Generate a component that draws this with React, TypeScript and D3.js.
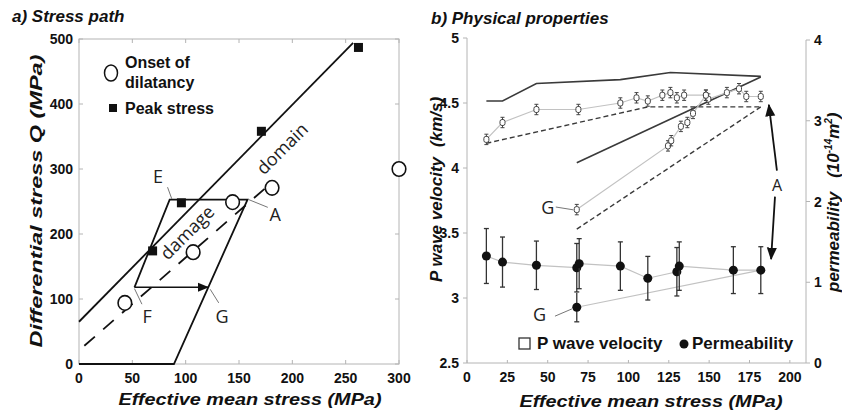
import React from 'react';
import * as d3 from 'd3';

const W = 842;
const H = 417;
const SANS = '"Liberation Sans", Arial, Helvetica, sans-serif';
const HAND = '"Open Sans", "Noto Sans", sans-serif';
const FRAME = '#b4b4b4';
const LIGHT = '#c2c2c2';
const DARK = '#3a3a3a';

// ---------- a) Stress path ----------
const stressXTicks = [0, 50, 100, 150, 200, 250, 300];
const stressYTicks = [0, 100, 200, 300, 400, 500];
const peakStress: [number, number][] = [[69, 174], [96, 248], [171, 358], [262, 487]];
const dilatancyOnset: [number, number][] = [[43, 94], [107, 172], [144, 249], [181, 271], [300, 300]];
const failureLine: [number, number][] = [[0, 65], [257, 494]];
const dilatancyLine: [number, number][] = [[5, 28], [175, 271]];
const loadingPath: [number, number][] = [[0, 0], [89, 0], [158, 253], [85, 253], [52, 118]];
const unloadingStep: [number, number][] = [[52, 118], [121, 118]];
const pathLabels = [
  { t: 'E', at: [74, 289], from: [83, 272], to: [87, 254] },
  { t: 'A', at: [184, 231], from: [177, 241], to: [159, 253] },
  { t: 'F', at: [64, 74], from: [59, 92], to: [52, 116] },
  { t: 'G', at: [134, 74], from: [131, 94], to: [123, 115] },
];

// ---------- b) Physical properties ----------
const propXTicks = [0, 25, 50, 75, 100, 125, 150, 175, 200];
const vpTicks = [2.5, 3, 3.5, 4, 4.5, 5];
const permTicks = [0, 1, 2, 3, 4];
const vpStress = [12, 22, 43, 69, 95, 105, 112, 121, 126, 130, 134.5, 148, 149.5, 161, 168.5, 173, 182];
const vpValues = [4.22, 4.35, 4.45, 4.45, 4.5, 4.54, 4.515, 4.56, 4.58, 4.54, 4.56, 4.56, 4.53, 4.58, 4.61, 4.55, 4.55];
const vpReloadStress = [68, 124.5, 126.5, 132.5, 136.5, 140, 148];
const vpReloadValues = [3.68, 4.17, 4.21, 4.32, 4.35, 4.42, 4.56];
const vpError = 0.04;
const permStress = [12, 22, 43, 68, 69.5, 95, 112, 130, 131.5, 165, 182];
const permValues = [1.325, 1.25, 1.21, 1.18, 1.23, 1.2, 1.05, 1.13, 1.2, 1.15, 1.15];
const permErrors = [0.34, 0.31, 0.3, 0.3, 0.31, 0.3, 0.27, 0.3, 0.3, 0.29, 0.29];
const permReloadStress = [68, 182];
const permReloadValues = [0.69, 1.15];
const permReloadError = 0.18;
const vpUpperModel: [number, number][] = [[12, 4.515], [22, 4.515], [43, 4.65], [95, 4.68], [126, 4.735], [182, 4.705]];
const vpReloadModel: [number, number][] = [[68, 4.04], [182, 4.7]];
const vpLowerModel: [number, number][] = [[12, 4.19], [112, 4.47], [182, 4.47]];
const vpReloadLowerModel: [number, number][] = [[68, 3.53], [182, 4.47]];

const xA = d3.scaleLinear().domain([0, 300]).range([79, 399]);
const yA = d3.scaleLinear().domain([0, 500]).range([364, 39]);
const xB = d3.scaleLinear().domain([0, 210]).range([467, 806]);
const yB = d3.scaleLinear().domain([2.5, 5]).range([363, 38]);
const kB = d3.scaleLinear().domain([0, 4]).range([363, 40]);

const lineA = d3.line<[number, number]>().x(d => xA(d[0])).y(d => yA(d[1]));
const lineB = d3.line<[number, number]>().x(d => xB(d[0])).y(d => yB(d[1]));
const lineK = d3.line<[number, number]>().x(d => xB(d[0])).y(d => kB(d[1]));

const zip = (xs: number[], ys: number[]) => xs.map((x, i) => [x, ys[i]] as [number, number]);

const Title = ({ x, y, children, size = 17, anchor = 'start', rot = 0, len }: any) => (
  <text
    transform={`translate(${x},${y}) rotate(${rot})`}
    fontFamily={SANS} fontWeight="bold" fontStyle="italic" fontSize={size}
    textAnchor={anchor} fill="#111"
    textLength={len} lengthAdjust={len ? 'spacingAndGlyphs' : undefined}
  >{children}</text>
);

export default function App() {
  const vpMain = zip(vpStress, vpValues);
  const vpRe = zip(vpReloadStress, vpReloadValues);
  const permMain = zip(permStress, permValues);
  const permRe = zip(permReloadStress, permReloadValues);

  return (
    <div style={{ position: 'absolute', left: 0, top: 0 }}>
      <svg width={W} height={H} style={{ display: 'block', background: '#fff' }}>
        <defs>
          <marker id="arr" viewBox="0 0 10 10" refX="9" refY="5" markerWidth="7" markerHeight="7" orient="auto">
            <path d="M0,1 L10,5 L0,9 z" fill="#111" />
          </marker>
        </defs>

        {/* ===== a) Stress path ===== */}
        <Title x={12} y={22}>a) Stress path</Title>
        <rect x={xA(0)} y={yA(500)} width={xA(300) - xA(0)} height={yA(0) - yA(500)} fill="none" stroke={FRAME} strokeWidth={1} />
        {stressXTicks.map(t => (
          <g key={'ax' + t}>
            <line x1={xA(t)} x2={xA(t)} y1={yA(0)} y2={yA(0) - 4} stroke={FRAME} />
            <line x1={xA(t)} x2={xA(t)} y1={yA(500)} y2={yA(500) + 4} stroke={FRAME} />
            <text x={xA(t)} y={yA(0) + 19} textAnchor="middle" fontFamily={SANS} fontWeight="bold" fontSize={14} fill="#111">{t}</text>
          </g>
        ))}
        {stressYTicks.map(t => (
          <g key={'ay' + t}>
            <line x1={xA(0)} x2={xA(0) + 4} y1={yA(t)} y2={yA(t)} stroke={FRAME} />
            <line x1={xA(300)} x2={xA(300) - 4} y1={yA(t)} y2={yA(t)} stroke={FRAME} />
            <text x={xA(0) - 6} y={yA(t) + 5} textAnchor="end" fontFamily={SANS} fontWeight="bold" fontSize={14} fill="#111">{t}</text>
          </g>
        ))}
        <Title x={250} y={405} size={17} anchor="middle" len={263}>Effective mean stress (MPa)</Title>
        <Title x={42} y={201} size={17} anchor="middle" rot={-90} len={293}>Differential stress Q (MPa)</Title>

        <path d={lineA(failureLine) ?? ''} fill="none" stroke="#111" strokeWidth={1.8} />
        <path d={lineA(dilatancyLine) ?? ''} fill="none" stroke="#111" strokeWidth={1.8} strokeDasharray="14,11" />
        <path d={lineA(loadingPath) ?? ''} fill="none" stroke="#111" strokeWidth={1.8} strokeLinejoin="miter" />
        <path d={lineA(unloadingStep) ?? ''} fill="none" stroke="#111" strokeWidth={1.6} markerEnd="url(#arr)" />

        {pathLabels.map(l => (
          <g key={l.t + l.at[0]}>
            <line x1={xA(l.from[0])} y1={yA(l.from[1])} x2={xA(l.to[0])} y2={yA(l.to[1])} stroke="#777" strokeWidth={1} />
            <text x={xA(l.at[0])} y={yA(l.at[1])} textAnchor="middle" dominantBaseline="central" fontFamily={HAND} fontSize={18} fill="#222">{l.t}</text>
          </g>
        ))}
        <text transform={`translate(${xA(101)},${yA(203)}) rotate(-45)`} textAnchor="middle" dominantBaseline="central" fontFamily={HAND} fontSize={18} fill="#222">damage</text>
        <text transform={`translate(${xA(190)},${yA(332)}) rotate(-45)`} textAnchor="middle" dominantBaseline="central" fontFamily={HAND} fontSize={18} fill="#222">domain</text>

        {dilatancyOnset.map((d, i) => (
          <ellipse key={'c' + i} cx={xA(d[0])} cy={yA(d[1])} rx={6.8} ry={7.3} fill="#fff" stroke="#111" strokeWidth={1.6} />
        ))}
        {peakStress.map((d, i) => (
          <rect key={'s' + i} x={xA(d[0]) - 4.5} y={yA(d[1]) - 4.5} width={9} height={9} fill="#111" />
        ))}

        {/* legend a */}
        <ellipse cx={111} cy={73} rx={6.5} ry={8} fill="#fff" stroke="#111" strokeWidth={1.5} />
        <text x={125} y={68} fontFamily={SANS} fontWeight="bold" fontSize={16} fill="#111">Onset of</text>
        <text x={125} y={88} fontFamily={SANS} fontWeight="bold" fontSize={16} fill="#111">dilatancy</text>
        <rect x={109} y={104} width={8} height={8} fill="#111" />
        <text x={125} y={114} fontFamily={SANS} fontWeight="bold" fontSize={16} fill="#111">Peak stress</text>

        {/* ===== b) Physical properties ===== */}
        <Title x={431} y={24}>b) Physical properties</Title>
        <line x1={xB(0)} x2={xB(0)} y1={yB(5)} y2={yB(2.5)} stroke={FRAME} />
        <line x1={xB(0)} x2={xB(210)} y1={yB(2.5)} y2={yB(2.5)} stroke={FRAME} />
        <line x1={xB(210)} x2={xB(210)} y1={kB(4)} y2={kB(0)} stroke={FRAME} />
        {propXTicks.map(t => (
          <g key={'bx' + t}>
            <line x1={xB(t)} x2={xB(t)} y1={yB(2.5)} y2={yB(2.5) - 3} stroke={FRAME} />
            <text x={xB(t)} y={yB(2.5) + 19} textAnchor="middle" fontFamily={SANS} fontWeight="bold" fontSize={14} fill="#111">{t}</text>
          </g>
        ))}
        {vpTicks.map(t => (
          <g key={'by' + t}>
            <line x1={xB(0) - 4} x2={xB(0)} y1={yB(t)} y2={yB(t)} stroke={FRAME} />
            <text x={xB(0) - 8} y={yB(t) + 5} textAnchor="end" fontFamily={SANS} fontWeight="bold" fontSize={14} fill="#111">{t}</text>
          </g>
        ))}
        {permTicks.map(t => (
          <g key={'bk' + t}>
            <line x1={xB(210)} x2={xB(210) + 4} y1={kB(t)} y2={kB(t)} stroke={FRAME} />
            <text x={xB(210) + 8} y={kB(t) + 5} textAnchor="start" fontFamily={SANS} fontWeight="bold" fontSize={14} fill="#111">{t}</text>
          </g>
        ))}
        <Title x={651} y={407} size={17} anchor="middle" len={263}>Effective mean stress (MPa)</Title>
        <text transform="translate(442,282) rotate(-90)" fontFamily={SANS} fontWeight="bold" fontStyle="italic" fontSize={17} textAnchor="start" fill="#111">
          P wave velocity<tspan dx={10}>(km/s)</tspan>
        </text>
        <text transform="translate(839,292) rotate(-90)" fontFamily={SANS} fontWeight="bold" fontStyle="italic" fontSize={17} textAnchor="start" fill="#111">
          permeability<tspan dx={14}>(10</tspan><tspan fontSize={10} dy={-7}>-14</tspan><tspan dy={7}>m</tspan><tspan fontSize={10} dy={-7}>2</tspan><tspan dy={7}>)</tspan>
        </text>

        {/* model curves */}
        <path d={lineB(vpUpperModel) ?? ''} fill="none" stroke={DARK} strokeWidth={1.6} />
        <path d={lineB(vpReloadModel) ?? ''} fill="none" stroke={DARK} strokeWidth={1.6} />
        <path d={lineB(vpLowerModel) ?? ''} fill="none" stroke={DARK} strokeWidth={1.4} strokeDasharray="5,3" />
        <path d={lineB(vpReloadLowerModel) ?? ''} fill="none" stroke={DARK} strokeWidth={1.4} strokeDasharray="5,3" />

        {/* data connecting lines */}
        <path d={lineB(vpMain) ?? ''} fill="none" stroke={LIGHT} strokeWidth={1.2} />
        <path d={lineB(vpRe) ?? ''} fill="none" stroke={LIGHT} strokeWidth={1.2} />
        <path d={lineK(permMain) ?? ''} fill="none" stroke={LIGHT} strokeWidth={1.2} />
        <path d={lineK(permRe) ?? ''} fill="none" stroke={LIGHT} strokeWidth={1.2} />

        {/* Vp points */}
        {[...vpMain, ...vpRe].map((d, i) => (
          <g key={'vp' + i} stroke="#444" strokeWidth={1}>
            <line x1={xB(d[0])} x2={xB(d[0])} y1={yB(d[1] - vpError)} y2={yB(d[1] + vpError)} />
            <line x1={xB(d[0]) - 2} x2={xB(d[0]) + 2} y1={yB(d[1] + vpError)} y2={yB(d[1] + vpError)} />
            <line x1={xB(d[0]) - 2} x2={xB(d[0]) + 2} y1={yB(d[1] - vpError)} y2={yB(d[1] - vpError)} />
            <rect x={xB(d[0]) - 2.5} y={yB(d[1]) - 3} width={5} height={6} rx={2} fill="#fff" />
          </g>
        ))}

        {/* permeability points */}
        {permMain.map((d, i) => (
          <g key={'k' + i} stroke="#333" strokeWidth={1.3}>
            <line x1={xB(d[0])} x2={xB(d[0])} y1={kB(d[1] - permErrors[i])} y2={kB(d[1] + permErrors[i])} />
            <line x1={xB(d[0]) - 2.5} x2={xB(d[0]) + 2.5} y1={kB(d[1] + permErrors[i])} y2={kB(d[1] + permErrors[i])} />
            <line x1={xB(d[0]) - 2.5} x2={xB(d[0]) + 2.5} y1={kB(d[1] - permErrors[i])} y2={kB(d[1] - permErrors[i])} />
            <circle cx={xB(d[0])} cy={kB(d[1])} r={4.5} fill="#111" stroke="none" />
          </g>
        ))}
        <g stroke="#333" strokeWidth={1.3}>
          <line x1={xB(permRe[0][0])} x2={xB(permRe[0][0])} y1={kB(permRe[0][1] - permReloadError)} y2={kB(permRe[0][1] + permReloadError)} />
          <line x1={xB(permRe[0][0]) - 2.5} x2={xB(permRe[0][0]) + 2.5} y1={kB(permRe[0][1] - permReloadError)} y2={kB(permRe[0][1] - permReloadError)} />
          <circle cx={xB(permRe[0][0])} cy={kB(permRe[0][1])} r={4.5} fill="#111" stroke="none" />
        </g>

        {/* G labels and A arrows */}
        <line x1={xB(55)} y1={yB(3.7)} x2={xB(66)} y2={yB(3.678)} stroke="#777" />
        <text x={xB(50)} y={yB(3.7)} textAnchor="middle" dominantBaseline="central" fontFamily={HAND} fontSize={18} fill="#222">G</text>
        <line x1={xB(54.5)} y1={kB(0.58)} x2={xB(65)} y2={kB(0.67)} stroke="#777" />
        <text x={xB(45)} y={kB(0.61)} textAnchor="middle" dominantBaseline="central" fontFamily={HAND} fontSize={18} fill="#222">G</text>
        <line x1={xB(192)} y1={yB(3.98)} x2={xB(187)} y2={yB(4.485)} stroke="#111" strokeWidth={1.8} markerEnd="url(#arr)" />
        <line x1={xB(190.8)} y1={yB(3.78)} x2={xB(188.4)} y2={yB(3.3)} stroke="#111" strokeWidth={1.8} markerEnd="url(#arr)" />
        <text x={xB(192)} y={yB(3.87)} textAnchor="middle" dominantBaseline="central" fontFamily={HAND} fontSize={16} fill="#222">A</text>

        {/* legend b */}
        <rect x={519} y={338} width={11} height={11} fill="#fff" stroke="#333" strokeWidth={1.3} />
        <text x={537} y={349} fontFamily={SANS} fontWeight="bold" fontSize={17} fill="#111">P wave velocity</text>
        <circle cx={684} cy={344} r={4.5} fill="#111" />
        <text x={692} y={349} fontFamily={SANS} fontWeight="bold" fontSize={17} fill="#111">Permeability</text>
      </svg>
    </div>
  );
}
